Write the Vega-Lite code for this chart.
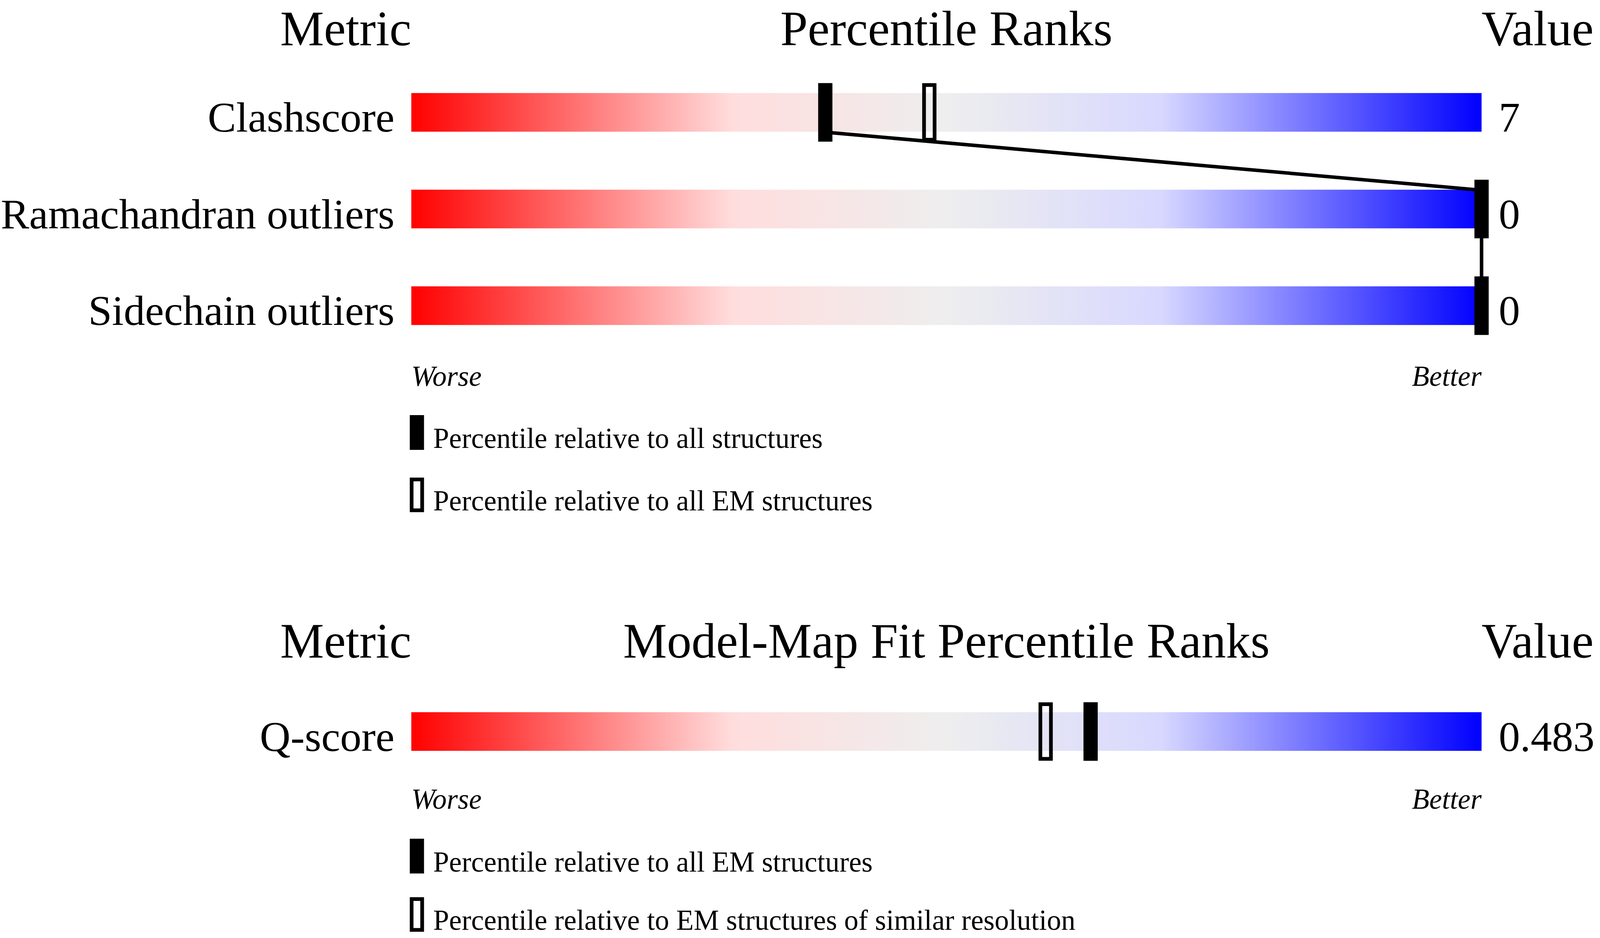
{
  "$schema": "https://vega.github.io/schema/vega-lite/v6.json",
  "width": 4096,
  "height": 2402,
  "autosize": {"type": "none"},
  "padding": 0,
  "background": "white",
  "config": {"view": {"stroke": null}, "text": {"font": "Liberation Serif", "color": "black"}},
  "datasets": {
    "metrics": [
      {"panel": 1, "metric": "Clashscore", "row": 1, "value": "7"},
      {"panel": 1, "metric": "Ramachandran outliers", "row": 2, "value": "0"},
      {"panel": 1, "metric": "Sidechain outliers", "row": 3, "value": "0"},
      {"panel": 2, "metric": "Q-score", "row": 7.4064, "value": "0.483"}
    ],
    "markers": [
      {"metric": "Clashscore", "row": 1, "percentile": 38.68, "kind": "filled"},
      {"metric": "Clashscore", "row": 1, "percentile": 48.4, "kind": "open"},
      {"metric": "Ramachandran outliers", "row": 2, "percentile": 100, "kind": "filled"},
      {"metric": "Sidechain outliers", "row": 3, "percentile": 100, "kind": "filled"},
      {"metric": "Q-score", "row": 7.4064, "percentile": 63.47, "kind": "filled"},
      {"metric": "Q-score", "row": 7.4064, "percentile": 59.27, "kind": "open"}
    ],
    "link": [
      {"step": 1, "percentile": 38.68, "row": 1.205},
      {"step": 2, "percentile": 100, "row": 1.805},
      {"step": 3, "percentile": 100, "row": 2.8}
    ],
    "headers": [
      {"panel": 1, "left": "Metric", "title": "Percentile Ranks", "right": "Value", "row": 0.306},
      {"panel": 2, "left": "Metric", "title": "Model-Map Fit Percentile Ranks", "right": "Value", "row": 6.6419}
    ],
    "ends": [
      {"panel": 1, "low": "Worse", "high": "Better", "row": 3.829},
      {"panel": 2, "low": "Worse", "high": "Better", "row": 8.2072}
    ],
    "legend": [
      {"panel": 1, "label": "Percentile relative to all structures", "kind": "filled", "row": 4.3119},
      {"panel": 1, "label": "Percentile relative to all EM structures", "kind": "open", "row": 4.9577},
      {"panel": 2, "label": "Percentile relative to all EM structures", "kind": "filled", "row": 8.6962},
      {"panel": 2, "label": "Percentile relative to EM structures of similar resolution", "kind": "open", "row": 9.30}
    ]
  },
  "layer": [
    {
      "data": {"name": "metrics"},
      "mark": {
        "type": "bar",
        "size": 99,
        "fill": {
          "gradient": "linear",
          "x1": 0, "y1": 0, "x2": 1, "y2": 0,
          "stops": [
            {"offset": 0, "color": "#ff0000"},
            {"offset": 0.3, "color": "#ffdddd"},
            {"offset": 0.5, "color": "#eeeeee"},
            {"offset": 0.7, "color": "#d8d8ff"},
            {"offset": 1, "color": "#0000ff"}
          ]
        }
      },
      "encoding": {
        "x": {"datum": 0, "type": "quantitative", "scale": {"domain": [-38.4333, 111.0667], "nice": false, "zero": false}, "axis": null},
        "x2": {"datum": 100},
        "y": {"field": "row", "type": "quantitative", "scale": {"domain": [-0.14286, 9.52314], "reverse": true, "nice": false, "zero": false}, "axis": null}
      }
    },
    {
      "data": {"name": "link"},
      "mark": {"type": "line", "color": "black", "strokeWidth": 9},
      "encoding": {
        "x": {"field": "percentile", "type": "quantitative"},
        "y": {"field": "row", "type": "quantitative"},
        "order": {"field": "step"}
      }
    },
    {
      "data": {"name": "markers"},
      "transform": [{"filter": "datum.kind === 'open'"}],
      "mark": {"type": "tick", "orient": "vertical", "filled": false, "color": "black", "strokeWidth": 9.5, "thickness": 27, "size": 140, "opacity": 1},
      "encoding": {
        "x": {"field": "percentile", "type": "quantitative"},
        "y": {"field": "row", "type": "quantitative"}
      }
    },
    {
      "data": {"name": "markers"},
      "transform": [{"filter": "datum.kind === 'filled'"}],
      "mark": {"type": "tick", "orient": "vertical", "filled": true, "color": "black", "thickness": 36.5, "size": 150, "opacity": 1},
      "encoding": {
        "x": {"field": "percentile", "type": "quantitative"},
        "y": {"field": "row", "type": "quantitative"}
      }
    },
    {
      "data": {"name": "metrics"},
      "mark": {"type": "text", "align": "right", "baseline": "alphabetic", "fontSize": 109, "dx": -43, "dy": 49.5},
      "encoding": {
        "x": {"datum": 0, "type": "quantitative"},
        "y": {"field": "row", "type": "quantitative"},
        "text": {"field": "metric"}
      }
    },
    {
      "data": {"name": "metrics"},
      "mark": {"type": "text", "align": "left", "baseline": "alphabetic", "fontSize": 109, "dx": 44, "dy": 49.5},
      "encoding": {
        "x": {"datum": 100, "type": "quantitative"},
        "y": {"field": "row", "type": "quantitative"},
        "text": {"field": "value"}
      }
    },
    {
      "data": {"name": "headers"},
      "mark": {"type": "text", "align": "right", "baseline": "alphabetic", "fontSize": 126},
      "encoding": {
        "x": {"datum": 0, "type": "quantitative"},
        "y": {"field": "row", "type": "quantitative"},
        "text": {"field": "left"}
      }
    },
    {
      "data": {"name": "headers"},
      "mark": {"type": "text", "align": "center", "baseline": "alphabetic", "fontSize": 126},
      "encoding": {
        "x": {"datum": 50, "type": "quantitative"},
        "y": {"field": "row", "type": "quantitative"},
        "text": {"field": "title"}
      }
    },
    {
      "data": {"name": "headers"},
      "mark": {"type": "text", "align": "left", "baseline": "alphabetic", "fontSize": 126},
      "encoding": {
        "x": {"datum": 100, "type": "quantitative"},
        "y": {"field": "row", "type": "quantitative"},
        "text": {"field": "right"}
      }
    },
    {
      "data": {"name": "ends"},
      "mark": {"type": "text", "align": "left", "baseline": "alphabetic", "fontSize": 73, "fontStyle": "italic"},
      "encoding": {
        "x": {"datum": 0, "type": "quantitative"},
        "y": {"field": "row", "type": "quantitative"},
        "text": {"field": "low"}
      }
    },
    {
      "data": {"name": "ends"},
      "mark": {"type": "text", "align": "right", "baseline": "alphabetic", "fontSize": 73, "fontStyle": "italic"},
      "encoding": {
        "x": {"datum": 100, "type": "quantitative"},
        "y": {"field": "row", "type": "quantitative"},
        "text": {"field": "high"}
      }
    },
    {
      "data": {"name": "legend"},
      "transform": [{"filter": "datum.kind === 'filled'"}],
      "mark": {"type": "tick", "orient": "vertical", "filled": true, "color": "black", "thickness": 36.5, "size": 89, "opacity": 1},
      "encoding": {
        "x": {"datum": 0.52, "type": "quantitative"},
        "y": {"field": "row", "type": "quantitative"}
      }
    },
    {
      "data": {"name": "legend"},
      "transform": [{"filter": "datum.kind === 'open'"}],
      "mark": {"type": "tick", "orient": "vertical", "filled": false, "color": "black", "strokeWidth": 9.5, "thickness": 27, "size": 79, "opacity": 1},
      "encoding": {
        "x": {"datum": 0.52, "type": "quantitative"},
        "y": {"field": "row", "type": "quantitative"}
      }
    },
    {
      "data": {"name": "legend"},
      "mark": {"type": "text", "align": "left", "baseline": "alphabetic", "fontSize": 73, "dx": 56, "dy": 39.5},
      "encoding": {
        "x": {"datum": 0, "type": "quantitative"},
        "y": {"field": "row", "type": "quantitative"},
        "text": {"field": "label"}
      }
    }
  ]
}
